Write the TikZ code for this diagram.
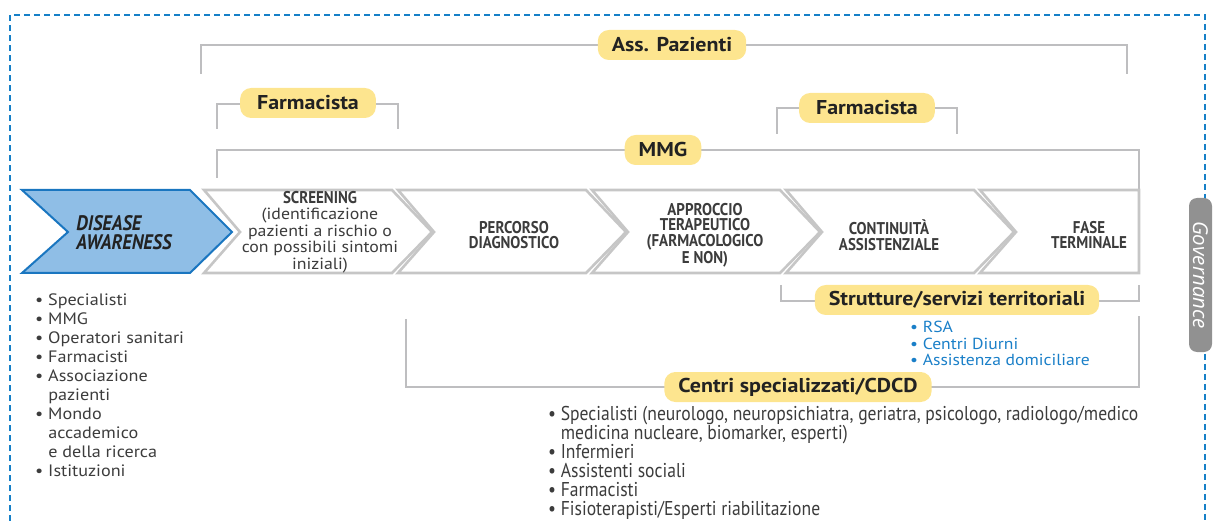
\documentclass[tikz,border=0pt]{standalone}
\usepackage{fontspec}
\setmainfont{PT Sans}
\newfontfamily\condfont[FakeStretch=0.88]{PT Sans}
\newfontfamily\widefont[FakeStretch=1.1]{PT Sans}
\newfontfamily\govfont{Open Sans}
\definecolor{chevgrey}{RGB}{198,198,198}
\definecolor{brgrey}{RGB}{190,190,192}
\definecolor{pillyel}{RGB}{253,229,143}
\definecolor{bluefill}{RGB}{143,190,230}
\definecolor{blueline}{RGB}{26,118,192}
\definecolor{darktxt}{RGB}{60,60,60}
\definecolor{pilltxt}{RGB}{34,34,34}
\definecolor{bluetxt}{RGB}{26,127,200}
\definecolor{govgrey}{RGB}{145,145,145}
\definecolor{frameblue}{RGB}{22,128,200}
\tikzset{
  bracket/.style={draw=brgrey, line width=2.4pt},
  pill/.style={fill=pillyel, rounded corners=11pt, minimum height=30pt, inner xsep=14pt, inner ysep=0pt,
    text=pilltxt, font=\widefont\fontsize{20}{22}\selectfont\bfseries},
  chev/.style={draw=chevgrey, line width=2.6pt, fill=white, line join=miter},
  chevtxt/.style={align=center, text=darktxt, font=\condfont\fontsize{17}{15.5}\selectfont\bfseries},
  listtxt/.style={align=left, text=darktxt, anchor=base west, inner sep=0pt},
}
\begin{document}
\begin{tikzpicture}[x=1pt,y=-1pt]
\useasboundingbox (0,0) rectangle (1213,521);
% frame
\draw[frameblue, line width=2pt, dash pattern=on 6pt off 4pt] (10,521) -- (10,15) -- (1205,15) -- (1205,521);
% governance tab
\node[fill=govgrey, rounded corners=8pt, minimum width=154pt, minimum height=23pt, inner sep=0pt,
  rotate=-90, text=white, font=\govfont\fontsize{20.5}{22}\selectfont\itshape] (gov) at (1200.5,275) {Governance};

% brackets
\coordinate (apL) at (201,74); \coordinate (apR) at (1127,74);
\draw[bracket] (apL) |- (1127,45) -- (apR);
\node[pill] (ap) at (672,45) {Ass. Pazienti};

\coordinate (f1L) at (217,129); \coordinate (f1R) at (398,129);
\draw[bracket] (f1L) |- (398,104) -- (f1R);
\node[pill, inner xsep=17pt] (f1) at (308,103) {Farmacista};

\coordinate (f2L) at (777,134); \coordinate (f2R) at (957,134);
\draw[bracket] (f2L) |- (957,108) -- (f2R);
\node[pill, inner xsep=17pt] (f2) at (867,108) {Farmacista};

\coordinate (mmgL) at (217,178); \coordinate (mmgR) at (1139,190);
\draw[bracket] (mmgL) |- (1139,150) -- (mmgR);
\node[pill] (mmg) at (663,150) {MMG};

% chevrons
\draw[fill=bluefill, draw=blueline, line width=2pt, line join=miter]
  (22,190) -- (190,190) -- (232,232) -- (190,273) -- (22,273) -- (68,232) -- cycle;
\foreach \x in {204,398,592,786}{
  \draw[chev] (\x,190) -- (\x+188,190) -- (\x+228,232) -- (\x+188,273) -- (\x,273) -- (\x+36,232) -- cycle;
}
\draw[chev] (980,190) -- (1139,190) -- (1139,273) -- (980,273) -- (1016,232) -- cycle;

\node[align=left, text=pilltxt, font=\condfont\fontsize{21}{19}\selectfont\bfseries\itshape] (da) at (124,233) {DISEASE\\AWARENESS};
\node[align=center, text=darktxt, font=\widefont\fontsize{16.2}{16.5}\selectfont] (scr) at (320,232)
  {{\condfont\fontsize{17}{15}\selectfont\bfseries SCREENING}\\(identificazione\\pazienti a rischio o\\con possibili sintomi\\iniziali)};
\node[chevtxt] (perc) at (514,235) {PERCORSO\\DIAGNOSTICO};
\node[chevtxt] (appr) at (705,235) {APPROCCIO\\TERAPEUTICO\\(FARMACOLOGICO\\E NON)};
\node[chevtxt] (cont) at (889,235) {CONTINUITÀ\\ASSISTENZIALE};
\node[chevtxt] (fase) at (1089,235) {FASE\\TERMINALE};

% strutture bracket
\coordinate (stL) at (781,285); \coordinate (stR) at (1139,285);
\draw[bracket] (stL) |- (1139,301) -- (stR);
\node[pill] (st) at (957,300) {Strutture/servizi territoriali};
\node[listtxt, text=bluetxt, font=\widefont\fontsize{16}{16.5}\selectfont] (stl) at (910,366)
  {• RSA\\• Centri Diurni\\• Assistenza domiciliare};

% centri bracket
\coordinate (ccL) at (406,319); \coordinate (ccR) at (1139,316);
\draw[bracket] (ccL) |- (1139,387) -- (ccR);
\node[pill] (cc) at (798,387) {Centri specializzati/CDCD};

% lists
\node[listtxt, font=\widefont\fontsize{16.5}{19}\selectfont] (ll) at (35,476)
  {• Specialisti\\• MMG\\• Operatori sanitari\\• Farmacisti\\• Associazione\\\hphantom{• }pazienti\\• Mondo\\\hphantom{• }accademico\\\hphantom{• }e della ricerca\\• Istituzioni};
\node[listtxt, font=\condfont\fontsize{20}{19}\selectfont] (bl) at (548,515)
  {• Specialisti (neurologo, neuropsichiatra, geriatra, psicologo, radiologo/medico\\\hphantom{• }medicina nucleare, biomarker, esperti)\\• Infermieri\\• Assistenti sociali\\• Farmacisti\\• Fisioterapisti/Esperti riabilitazione};
\end{tikzpicture}
\end{document}
